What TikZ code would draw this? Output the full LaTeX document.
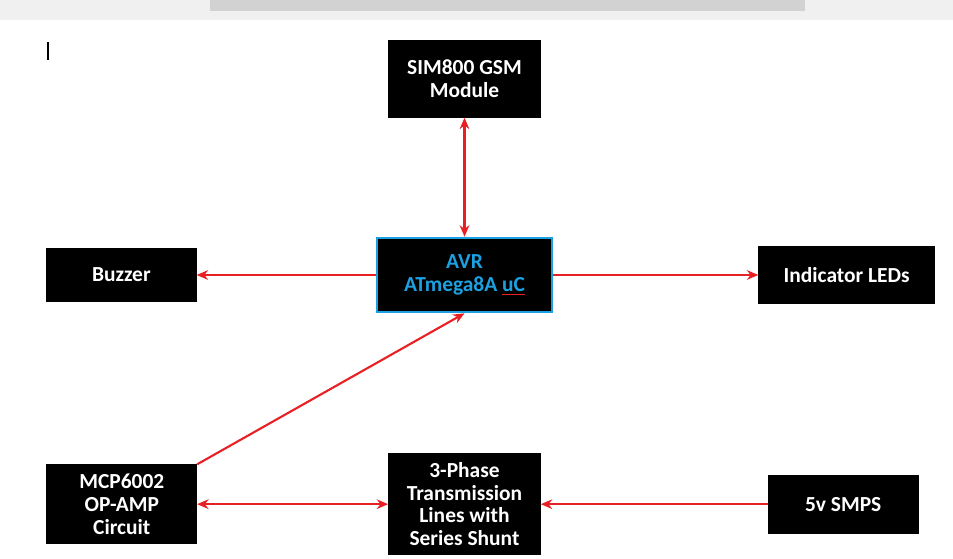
\documentclass[tikz,border=0pt]{standalone}
\usepackage{fontspec}
\setmainfont{Carlito}
\usepackage{xcolor}
\usetikzlibrary{positioning, arrows.meta}
\definecolor{avrblue}{RGB}{27,161,226}
\definecolor{linkred}{RGB}{232,32,36}
\newcommand{\uCmark}{{\setbox0\hbox{uC}\rlap{\color{linkred}\rule[-2.2pt]{\wd0}{0.7pt}}\box0}}
\tikzset{
  block/.style={draw=black, fill=black, text=white, align=center, font=\fontsize{12.2}{12.9}\selectfont\bfseries, inner sep=2pt},
  link/.style={-{Stealth[length=6.5pt, width=5.5pt]}, draw=linkred, line width=1.2pt},
  duplex/.style={link, {Stealth[length=6.5pt, width=5.5pt]}-{Stealth[length=6.5pt, width=5.5pt]}},
}

\begin{document}
\begin{tikzpicture}
  \useasboundingbox (0,0) rectangle (19.06,11.18);
  % faded strip at the top and the cursor mark
  \fill[gray!12] (0,10.78) rectangle (19.06,11.18);
  \fill[gray!35] (4.2,10.95) rectangle (16.1,11.18);
  \draw[line width=1pt] (0.96,10.34) -- (0.96,9.98);
  \node[block, draw=avrblue, line width=1.5pt, text=avrblue, minimum width=3.5cm, minimum height=1.48cm] (avr) at (9.29,5.68) {AVR\\ ATmega8A \uCmark};
  \node[block, minimum width=3.04cm, minimum height=1.54cm, above=2.38cm of avr] (gsm) {SIM800 GSM\\ Module};
  \node[block, minimum width=3.0cm, minimum height=1.06cm, left=3.58cm of avr] (buzzer) {Buzzer};
  \node[block, minimum width=3.52cm, minimum height=1.14cm, right=4.1cm of avr] (leds) {Indicator LEDs};
  \node[block, minimum width=3.04cm, minimum height=2.02cm, below=2.8cm of avr] (lines) {3-Phase\\ Transmission\\ Lines with\\ Series Shunt};
  \node[block, minimum width=3.0cm, minimum height=1.58cm, left=3.82cm of lines] (opamp) {MCP6002\\ OP-AMP\\ Circuit};
  \node[block, minimum width=3.0cm, minimum height=1.16cm, right=4.54cm of lines] (smps) {5v SMPS};
  \draw[duplex] (gsm) -- (avr);
  \foreach \b in {buzzer, leds} {\draw[link] (avr) -- (\b);}
  \draw[link] (opamp.north east) -- (avr.south);
  \draw[duplex] (opamp) -- (lines);
  \draw[link] (smps) -- (lines);
\end{tikzpicture}
\end{document}
